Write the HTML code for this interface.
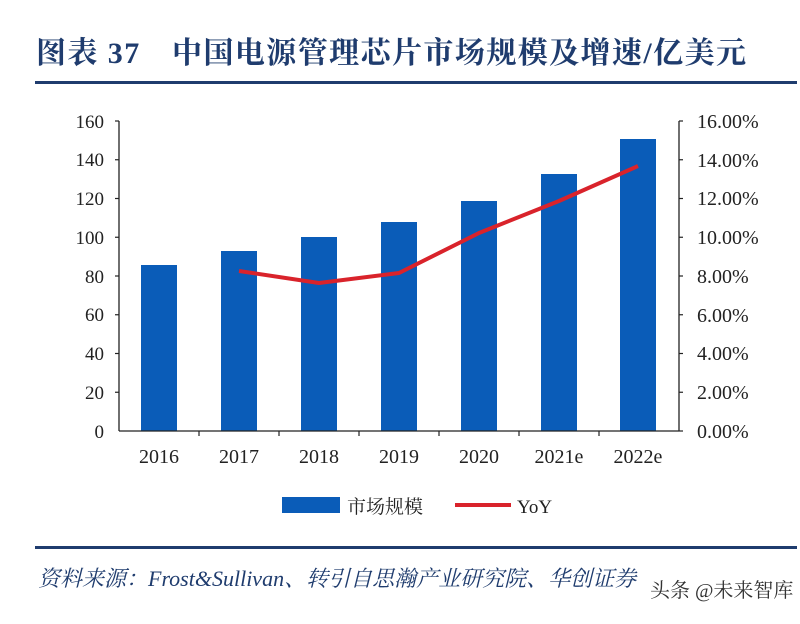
<!DOCTYPE html>
<html><head><meta charset="utf-8"><style>
body{margin:0;background:#fff;width:800px;height:619px;overflow:hidden}
svg text{font-family:"Liberation Serif","Noto Serif CJK SC",serif}
</style></head><body>
<svg width="800" height="619" xmlns="http://www.w3.org/2000/svg">
<text x="36" y="63" font-size="30" font-weight="bold" fill="#1f3c6e" textLength="710" lengthAdjust="spacing">图表 37　中国电源管理芯片市场规模及增速/亿美元</text>
<rect x="35" y="81" width="762" height="3" fill="#1f3c6e"/>
<g fill="#0a5cb8">
<rect x="141" y="265" width="36" height="166"/>
<rect x="221" y="251" width="36" height="180"/>
<rect x="301" y="237" width="36" height="194"/>
<rect x="381" y="222" width="36" height="209"/>
<rect x="461" y="201" width="36" height="230"/>
<rect x="541" y="174" width="36" height="257"/>
<rect x="620" y="139" width="36" height="292"/>
</g>
<g stroke="#222" stroke-width="1.3" fill="none">
<line x1="119" y1="121" x2="119" y2="431"/>
<line x1="119" y1="431" x2="679" y2="431"/>
<line x1="679" y1="121" x2="679" y2="431"/>
</g>
<g stroke="#222" stroke-width="1.2">
<line x1="115" y1="121" x2="119" y2="121"/><line x1="115" y1="159.75" x2="119" y2="159.75"/><line x1="115" y1="198.5" x2="119" y2="198.5"/><line x1="115" y1="237.25" x2="119" y2="237.25"/><line x1="115" y1="276" x2="119" y2="276"/><line x1="115" y1="314.75" x2="119" y2="314.75"/><line x1="115" y1="353.5" x2="119" y2="353.5"/><line x1="115" y1="392.25" x2="119" y2="392.25"/>
<line x1="679" y1="121" x2="683" y2="121"/><line x1="679" y1="159.75" x2="683" y2="159.75"/><line x1="679" y1="198.5" x2="683" y2="198.5"/><line x1="679" y1="237.25" x2="683" y2="237.25"/><line x1="679" y1="276" x2="683" y2="276"/><line x1="679" y1="314.75" x2="683" y2="314.75"/><line x1="679" y1="353.5" x2="683" y2="353.5"/><line x1="679" y1="392.25" x2="683" y2="392.25"/><line x1="679" y1="431" x2="683" y2="431"/>
<line x1="199" y1="431" x2="199" y2="436"/><line x1="279" y1="431" x2="279" y2="436"/><line x1="359" y1="431" x2="359" y2="436"/><line x1="439" y1="431" x2="439" y2="436"/><line x1="519" y1="431" x2="519" y2="436"/><line x1="599" y1="431" x2="599" y2="436"/>
</g>
<g font-size="19" fill="#222" text-anchor="end">
<text x="104" y="128">160</text><text x="104" y="166">140</text><text x="104" y="205">120</text><text x="104" y="244">100</text><text x="104" y="283">80</text><text x="104" y="321">60</text><text x="104" y="360">40</text><text x="104" y="399">20</text><text x="104" y="438">0</text>
</g>
<g font-size="20" fill="#222">
<text x="697" y="128">16.00%</text><text x="697" y="167">14.00%</text><text x="697" y="205">12.00%</text><text x="697" y="244">10.00%</text><text x="697" y="283">8.00%</text><text x="697" y="322">6.00%</text><text x="697" y="360">4.00%</text><text x="697" y="399">2.00%</text><text x="697" y="438">0.00%</text>
</g>
<g font-size="20" fill="#222" text-anchor="middle">
<text x="159" y="463">2016</text><text x="239" y="463">2017</text><text x="319" y="463">2018</text><text x="399" y="463">2019</text><text x="479" y="463">2020</text><text x="559" y="463">2021e</text><text x="638" y="463">2022e</text>
</g>
<polyline points="239,271 319,283 399,273 479,233 559,201 638,166" fill="none" stroke="#d9232b" stroke-width="4" stroke-linejoin="round"/>
<rect x="282" y="497" width="58" height="16" fill="#0a5cb8"/>
<text x="347" y="513" font-size="19" fill="#222">市场规模</text>
<rect x="455" y="503" width="56" height="4" fill="#d9232b"/>
<text x="517" y="513" font-size="19" fill="#222">YoY</text>
<rect x="35" y="546" width="762" height="3" fill="#1f3c6e"/>
<text x="38" y="586" font-size="22" font-style="italic" fill="#1f3c6e">资料来源：Frost&amp;Sullivan、转引自思瀚产业研究院、华创证券</text>
<text x="650" y="597" font-size="20" fill="#333" font-family="Liberation Sans,Noto Sans CJK SC,sans-serif">头条 @未来智库</text>
</svg>
</body></html>
